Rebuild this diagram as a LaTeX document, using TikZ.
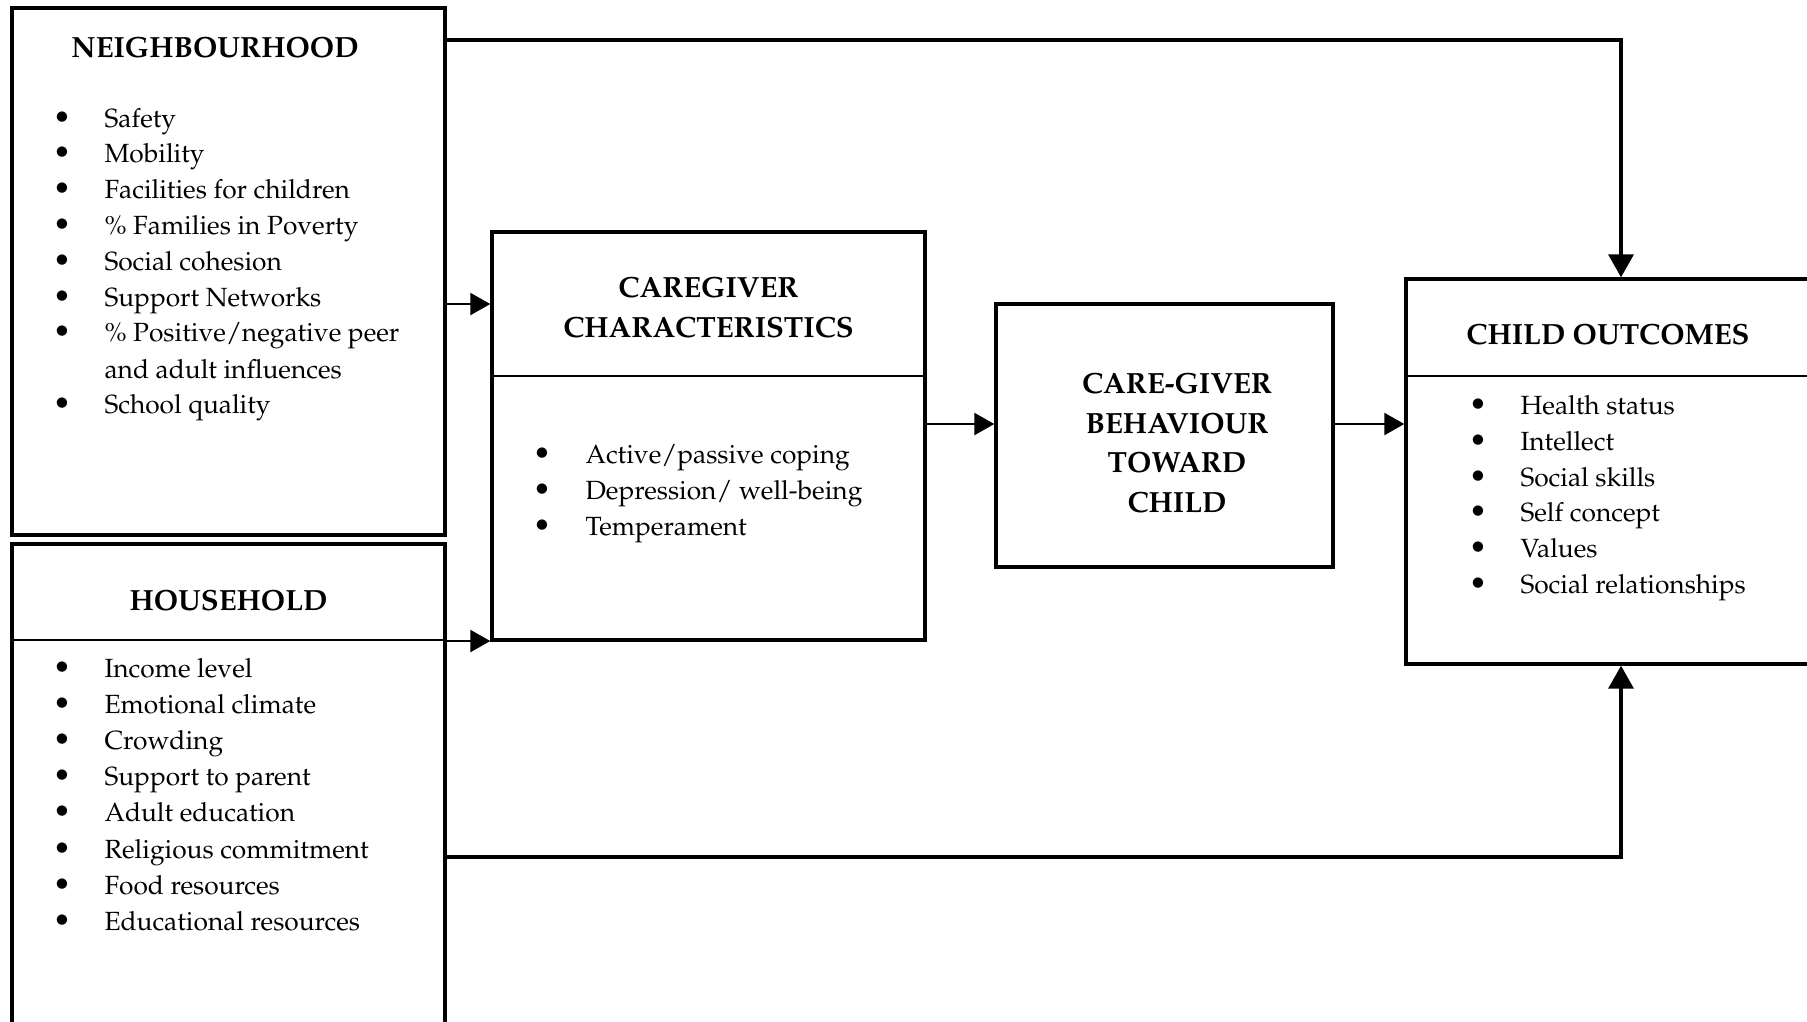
\documentclass[tikz,border=0pt]{standalone}
\usepackage[T1]{fontenc}
\usepackage{mathpazo}
\usetikzlibrary{arrows.meta,fit}

\tikzset{
  box/.style={draw, line width=1.3pt, inner sep=0pt},
  sepline/.style={line width=0.75pt},
  flow/.style={line width=0.75pt, -{Triangle[length=7.6pt,width=8.4pt]}},
  longflow/.style={line width=1.2pt, -{Triangle[length=8.7pt,width=9.5pt]}},
  head/.style={font=\fontsize{11.1pt}{13pt}\selectfont\bfseries, anchor=base, inner sep=0pt},
  item/.style={anchor=base west, inner sep=0pt},
  dot/.style={font=\fontsize{11.5pt}{13pt}\selectfont, anchor=base, inner sep=0pt},
}

\begin{document}
\begin{tikzpicture}[x=0.38pt, y=-0.38pt, font=\fontsize{10pt}{12pt}\selectfont]
        \useasboundingbox (0,0) rectangle (1807,1021);

        % Boxes
        \node[box, fit={(12,8) (445,535)}] (nb) {};
        \node[box, fit={(12,544) (445,1040)}] (hh) {};
        \node[box, fit={(492,232) (925,640)}] (cg) {};
        \node[box, fit={(996,304) (1333,567)}] (bh) {};
        \node[box, fit={(1406,279) (1812,664)}] (ch) {};

        % Header separators
        \draw[sepline] (hh.west |- 0,640) -- (hh.east |- 0,640);
        \draw[sepline] (cg.west |- 0,376) -- (cg.east |- 0,376);
        \draw[sepline] (ch.west |- 0,376) -- (ch.east |- 0,376);

        % Headings
        \node[head] (nbhead) at (215,57) {NEIGHBOURHOOD};
        \node[head] (hhhead) at (228.5,610) {HOUSEHOLD};
        \node[head] (cghead1) at (708.5,297) {CAREGIVER};
        \node[head] (cghead2) at (708.5,337) {CHARACTERISTICS};
        \node[head] (bhhead1) at (1177,393) {CARE-GIVER};
        \node[head] (bhhead2) at (1177,433) {BEHAVIOUR};
        \node[head] (bhhead3) at (1177,472) {TOWARD};
        \node[head] (bhhead4) at (1177,512) {CHILD};
        \node[head] (chhead) at (1608,344) {CHILD OUTCOMES};

        % Neighbourhood list
        \foreach \txt [count=\i from 0] in {Safety, Mobility, Facilities for children,
            \% Families in Poverty, Social cohesion, Support Networks, \% Positive/negative peer} {
          \node[dot] (nbdot\i) at (62,127+35.8*\i) {\textbullet};
          \node[item] (nbitem\i) at (104,127+35.8*\i) {\txt};
        }
        \node[item] (nbcont) at (104,378) {and adult influences};
        \node[dot] (nbdot8) at (62,413.5) {\textbullet};
        \node[item] (nbitem8) at (104,413.5) {School quality};

        % Household list
        \foreach \txt [count=\i from 0] in {Income level, Emotional climate, Crowding,
            Support to parent, Adult education, Religious commitment, Food resources,
            Educational resources} {
          \node[dot] (hhdot\i) at (62,677.5+36.1*\i) {\textbullet};
          \node[item] (hhitem\i) at (104,677.5+36.1*\i) {\txt};
        }

        % Caregiver list
        \foreach \txt [count=\i from 0] in {Active/passive coping, Depression/ well-being, Temperament} {
          \node[dot] (cgdot\i) at (542,463+36*\i) {\textbullet};
          \node[item] (cgitem\i) at (585,463+36*\i) {\txt};
        }

        % Child outcomes list
        \foreach \txt [count=\i from 0] in {Health status, Intellect, Social skills, Self concept,
            Values, Social relationships} {
          \node[dot] (chdot\i) at (1478,414.5+35.8*\i) {\textbullet};
          \node[item] (chitem\i) at (1520,414.5+35.8*\i) {\txt};
        }

        % Short arrows
        \draw[flow] (nb.east |- 0,304) -- (cg.west |- 0,304);
        \draw[flow] (hh.east |- 0,641) -- (cg.west |- 0,641);
        \draw[flow] (cg.east |- 0,424) -- (bh.west |- 0,424);
        \draw[flow] (bh.east |- 0,424) -- (ch.west |- 0,424);

        % Long arrows into child outcomes
        \coordinate (topturn) at (1621,40);
        \coordinate (botturn) at (1621,857);
        \draw[longflow] (nb.east |- topturn) -- (topturn) -- (topturn |- ch.north);
        \draw[longflow] (hh.east |- botturn) -- (botturn) -- (botturn |- ch.south);
\end{tikzpicture}
\end{document}
